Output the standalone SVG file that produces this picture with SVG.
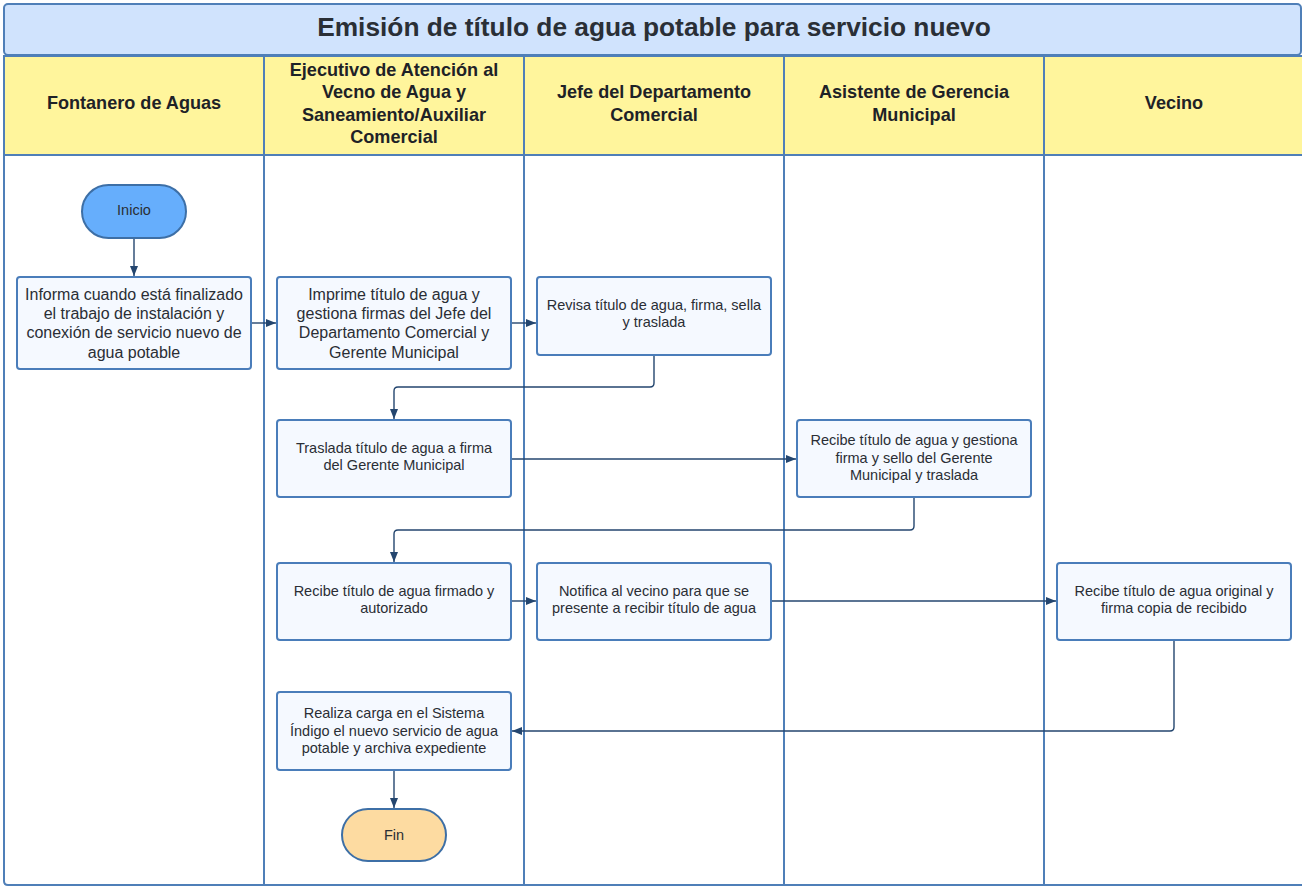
<svg xmlns="http://www.w3.org/2000/svg" width="1302" height="886" viewBox="0 0 1302 886">
<style>
.lane{fill:#ffffff;stroke:#4f7fb8;stroke-width:2}
.hdr{fill:#fff59c;stroke:#4f7fb8;stroke-width:2}
.hdrt{font-family:"Liberation Sans",Arial,sans-serif;font-weight:bold;font-size:18.1px;fill:#1e2227;text-anchor:middle}
.box{fill:#f5f9ff;stroke:#4a7dba;stroke-width:2}
.t{font-family:"Liberation Sans",Arial,sans-serif;font-size:14.5px;fill:#2a2e35;text-anchor:middle}
.tl{font-family:"Liberation Sans",Arial,sans-serif;font-size:16px;fill:#2a2e35;text-anchor:middle}
.c{fill:none;stroke:#24466f;stroke-width:1.4}
</style>
<defs>
<marker id="ar" viewBox="0 0 10 10" refX="10" refY="5" markerWidth="10" markerHeight="10" markerUnits="userSpaceOnUse" orient="auto">
<path d="M0,1 L10,5 L0,9 Z" fill="#24466f"/>
</marker>
</defs>
<rect width="1302" height="886" fill="#ffffff"/>
<g id="title">
<rect x="4" y="4" width="1297" height="51" rx="4" fill="#d0e3fd" stroke="#4f7fb8" stroke-width="2"/>
<text x="654" y="36" font-family="Liberation Sans,Arial,sans-serif" font-weight="bold" font-size="26.3" fill="#2a2f36" text-anchor="middle">Emisión de título de agua potable para servicio nuevo</text>
</g>
<g id="lanes">
<path class="lane" d="M4,56 H1303 V885 H8 Q4,885 4,881 Z"/>
<rect class="hdr" x="4" y="56" width="1299" height="99"/>
<line x1="264" y1="56" x2="264" y2="886" stroke="#4f7fb8" stroke-width="2"/>
<line x1="524" y1="56" x2="524" y2="886" stroke="#4f7fb8" stroke-width="2"/>
<line x1="784" y1="56" x2="784" y2="886" stroke="#4f7fb8" stroke-width="2"/>
<line x1="1044" y1="56" x2="1044" y2="886" stroke="#4f7fb8" stroke-width="2"/>
<text class="hdrt" x="134" y="109">Fontanero de Aguas</text>
<text class="hdrt" x="394" y="76">Ejecutivo de Atención al</text>
<text class="hdrt" x="394" y="98">Vecno de Agua y</text>
<text class="hdrt" x="394" y="121">Saneamiento/Auxiliar</text>
<text class="hdrt" x="394" y="143">Comercial</text>
<text class="hdrt" x="654" y="98">Jefe del Departamento</text>
<text class="hdrt" x="654" y="121">Comercial</text>
<text class="hdrt" x="914" y="98">Asistente de Gerencia</text>
<text class="hdrt" x="914" y="121">Municipal</text>
<text class="hdrt" x="1174" y="109">Vecino</text>
</g>
<g id="connectors">
<path class="c" d="M134,238 V276" marker-end="url(#ar)"/>
<path class="c" d="M251,323 H276" marker-end="url(#ar)"/>
<path class="c" d="M511,323 H536" marker-end="url(#ar)"/>
<path class="c" d="M654,355 V383 Q654,387 650,387 H398 Q394,387 394,391 V419" marker-end="url(#ar)"/>
<path class="c" d="M511,459 H796" marker-end="url(#ar)"/>
<path class="c" d="M914,497 V526 Q914,530 910,530 H398 Q394,530 394,534 V562" marker-end="url(#ar)"/>
<path class="c" d="M511,601 H536" marker-end="url(#ar)"/>
<path class="c" d="M771,601 H1056" marker-end="url(#ar)"/>
<path class="c" d="M1174,640 V727 Q1174,731 1170,731 H512" marker-end="url(#ar)"/>
<path class="c" d="M394,770 V808" marker-end="url(#ar)"/>
</g>
<g id="inicio">
<rect x="82" y="185" width="104" height="53" rx="26.5" fill="#66aefc" stroke="#3d6fa6" stroke-width="2"/>
<text class="t" x="134" y="215" font-size="16">Inicio</text>
</g>
<g id="informa">
<rect class="box" x="17" y="277" width="234" height="92" rx="3"/>
<text class="tl" x="134" y="300">Informa cuando está finalizado</text>
<text class="tl" x="134" y="319">el trabajo de instalación y</text>
<text class="tl" x="134" y="338">conexión de servicio nuevo de</text>
<text class="tl" x="134" y="358">agua potable</text>
</g>
<g id="imprime">
<rect class="box" x="277" y="277" width="234" height="92" rx="3"/>
<text class="tl" x="394" y="300">Imprime título de agua y</text>
<text class="tl" x="394" y="319">gestiona firmas del Jefe del</text>
<text class="tl" x="394" y="338">Departamento Comercial y</text>
<text class="tl" x="394" y="358">Gerente Municipal</text>
</g>
<g id="revisa">
<rect class="box" x="537" y="277" width="234" height="78" rx="3"/>
<text class="t" x="654" y="310">Revisa título de agua, firma, sella</text>
<text class="t" x="654" y="327">y traslada</text>
</g>
<g id="traslada">
<rect class="box" x="277" y="420" width="234" height="77" rx="3"/>
<text class="t" x="394" y="453">Traslada título de agua a firma</text>
<text class="t" x="394" y="470">del Gerente Municipal</text>
</g>
<g id="recibe-gestiona">
<rect class="box" x="797" y="420" width="234" height="77" rx="3"/>
<text class="t" x="914" y="445">Recibe título de agua y gestiona</text>
<text class="t" x="914" y="463">firma y sello del Gerente</text>
<text class="t" x="914" y="480">Municipal y traslada</text>
</g>
<g id="recibe-firmado">
<rect class="box" x="277" y="563" width="234" height="77" rx="3"/>
<text class="t" x="394" y="596">Recibe título de agua firmado y</text>
<text class="t" x="394" y="613">autorizado</text>
</g>
<g id="notifica">
<rect class="box" x="537" y="563" width="234" height="77" rx="3"/>
<text class="t" x="654" y="596">Notifica al vecino para que se</text>
<text class="t" x="654" y="613">presente a recibir título de agua</text>
</g>
<g id="vecino-recibe">
<rect class="box" x="1057" y="563" width="234" height="77" rx="3"/>
<text class="t" x="1174" y="596">Recibe título de agua original y</text>
<text class="t" x="1174" y="613">firma copia de recibido</text>
</g>
<g id="realiza">
<rect class="box" x="277" y="692" width="234" height="78" rx="3"/>
<text class="t" x="394" y="718">Realiza carga en el Sistema</text>
<text class="t" x="394" y="736">Índigo el nuevo servicio de agua</text>
<text class="t" x="394" y="753">potable y archiva expediente</text>
</g>
<g id="fin">
<rect x="342" y="809" width="104" height="52" rx="26" fill="#fddba1" stroke="#3d6fa6" stroke-width="2"/>
<text class="t" x="394" y="840" font-size="16">Fin</text>
</g>
</svg>
